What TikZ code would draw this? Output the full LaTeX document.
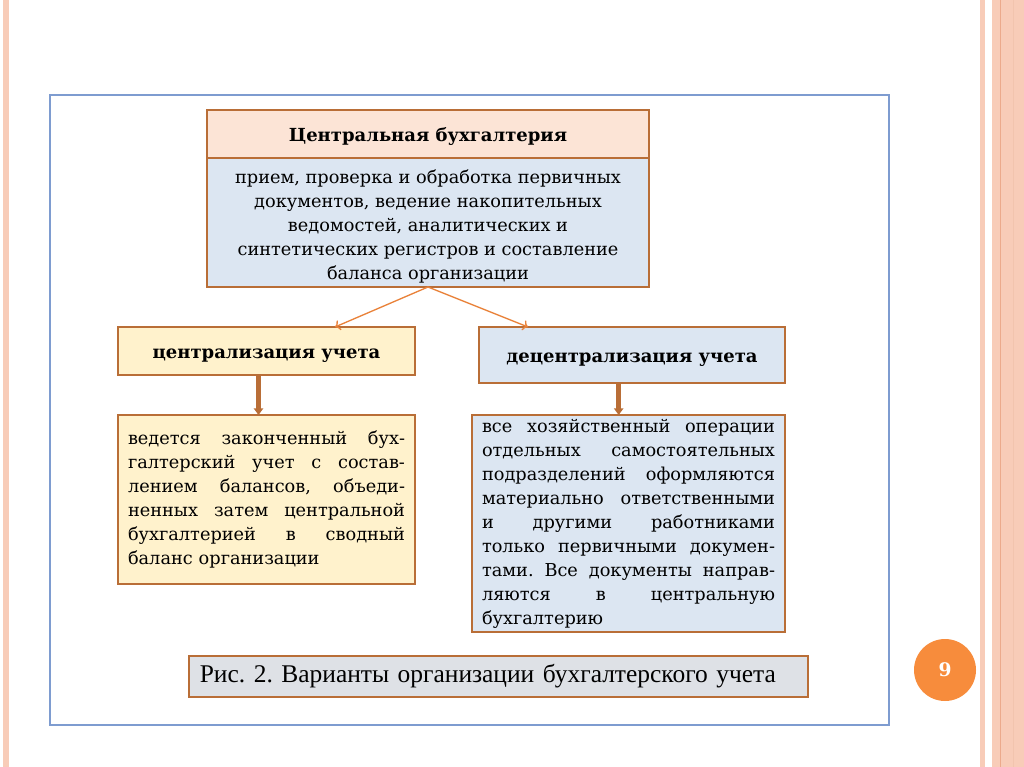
\documentclass[tikz,border=0pt]{standalone}
\usepackage{fontspec}
\setmainfont{DejaVu Serif}
\newfontfamily\capfont{Liberation Serif}
\usetikzlibrary{arrows.meta}

\definecolor{boxbrown}{RGB}{185,110,55}
\definecolor{peach}{RGB}{252,228,214}
\definecolor{paleblue}{RGB}{220,230,242}
\definecolor{paleyellow}{RGB}{255,242,204}
\definecolor{arroworange}{RGB}{233,130,58}
\definecolor{frameblue}{RGB}{126,156,208}
\definecolor{capgrey}{RGB}{222,225,230}
\definecolor{pageorange}{RGB}{247,140,60}
\definecolor{salmon}{RGB}{248,204,184}
\definecolor{salmondark}{RGB}{236,170,140}

\tikzset{
  box/.style={draw=boxbrown, line width=2.2pt, inner sep=0pt, outer sep=0pt,
              anchor=north west},
  bodytext/.style={font=\frenchspacing\fontsize{13.3}{18}\selectfont},
  headtext/.style={font=\bfseries\fontsize{13.5}{18}\selectfont,
                   text height=10.5pt, text depth=0pt},
  split/.style={->, arroworange, line width=1pt},
  down/.style={-{Triangle[width=7pt,length=5pt]}, boxbrown, line width=3.6pt},
}
\newcommand{\jwidth}{200pt}
\newcommand{\jline}[1]{\makebox[\jwidth][s]{\spaceskip=0.3em plus 1fil\relax #1}\\}

\begin{document}
\begin{tikzpicture}[x=0.75pt, y=-0.75pt]
  \useasboundingbox (0,0) rectangle (1024,767);
  % side stripes
  \fill[salmon] (3,0) rectangle (9,767);
  \fill[salmon] (980,0) rectangle (985,767);
  \fill[salmon] (992,0) rectangle (1024,767);
  \draw[salmondark, line width=0.6pt] (1000,0) -- (1000,767);
  \draw[salmondark!70, line width=0.6pt] (1013,0) -- (1013,767);
  % frame
  \draw[frameblue, line width=2.2pt] (50,95) rectangle (889,725);

  \node[box, fill=peach, headtext, minimum width=331.5pt, minimum height=36pt]
    (head) at (207,110) {Центральная бухгалтерия};
  \node[box, fill=paleblue, bodytext, minimum width=331.5pt, minimum height=96.75pt,
        align=center] (body) at (head.south west)
    {\rule{0pt}{16pt}прием, проверка и обработка первичных\\
     документов, ведение накопительных\\
     ведомостей, аналитических и\\
     синтетических регистров и составление\\
     баланса организации};

  \node[box, fill=paleyellow, headtext, minimum width=222.75pt, minimum height=36pt]
    (lmid) at (118,327) {централизация учета};
  \node[box, fill=paleblue, headtext, minimum width=229.5pt, minimum height=42pt]
    (rmid) at (479,327) {децентрализация учета};

  \node[box, fill=paleyellow, bodytext, minimum width=222.75pt, minimum height=126.75pt,
        text width=207.75pt, align=left] (llow) at (118,415)
    {\renewcommand{\jwidth}{207.75pt}%
     \jline{ведется законченный бух-}
     \jline{галтерский учет с состав-}
     \jline{лением балансов, объеди-}
     \jline{ненных затем центральной}
     \jline{бухгалтерией в сводный}
     баланс организации};
  \node[box, fill=paleblue, bodytext, minimum width=234.75pt, minimum height=162.75pt,
        text width=219.75pt, align=left] (rlow) at (472,415)
    {\renewcommand{\jwidth}{219.75pt}%
     \jline{все хозяйственный операции}
     \jline{отдельных самостоятельных}
     \jline{подразделений оформляются}
     \jline{материально ответственными}
     \jline{и другими работниками}
     \jline{только первичными докумен-}
     \jline{тами. Все документы направ-}
     \jline{ляются в центральную}
     бухгалтерию};

  \node[box, fill=capgrey, minimum width=464.25pt, minimum height=30.75pt,
        text width=448pt, align=left,
        font=\capfont\frenchspacing\fontsize{19.1}{22}\selectfont]
    (caption) at (189,656) {Рис. 2. Варианты организации бухгалтерского учета};

  \node[circle, fill=pageorange, minimum size=46.5pt, text=white,
        font=\bfseries\fontsize{14}{16}\selectfont] (page) at (945,670) {9};

  % connectors
  \draw[split] (body.south) -- ([xshift=-60pt]lmid.north east);
  \draw[split] (body.south) -- ([xshift=36.75pt]rmid.north west);
  \draw[down] ([xshift=-6pt]lmid.south) -- ([xshift=-6pt]lmid.south |- llow.north);
  \draw[down] ([xshift=-10pt]rmid.south) -- ([xshift=-10pt]rmid.south |- rlow.north);
\end{tikzpicture}
\end{document}
